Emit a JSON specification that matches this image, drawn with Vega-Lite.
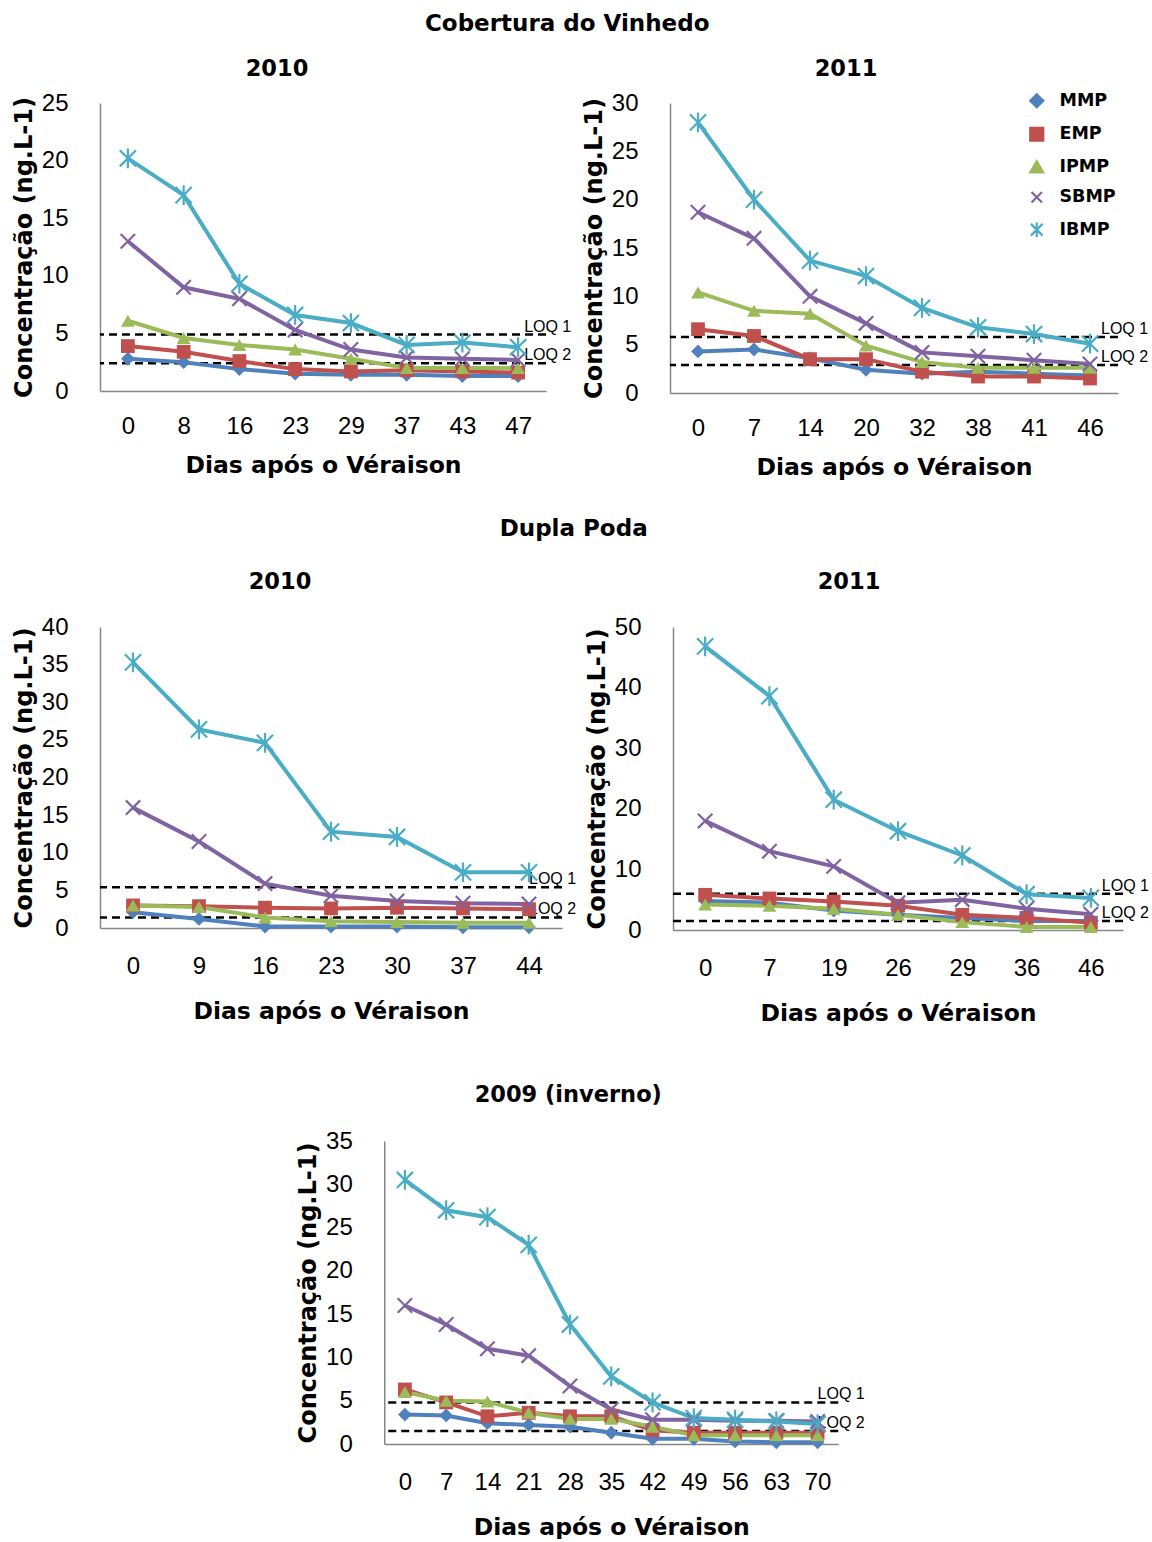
{
  "$schema": "https://vega.github.io/schema/vega-lite/v6.json",
  "padding": {"left": 12, "top": 12, "right": 0, "bottom": 0},
  "datasets": {
    "serie": [
      {"painel":"cv2010","dia":0,"composto":"MMP","valor":2.8},{"painel":"cv2010","dia":8,"composto":"MMP","valor":2.5},{"painel":"cv2010","dia":16,"composto":"MMP","valor":1.9},{"painel":"cv2010","dia":23,"composto":"MMP","valor":1.5},{"painel":"cv2010","dia":29,"composto":"MMP","valor":1.4},{"painel":"cv2010","dia":37,"composto":"MMP","valor":1.4},{"painel":"cv2010","dia":43,"composto":"MMP","valor":1.3},{"painel":"cv2010","dia":47,"composto":"MMP","valor":1.3},
      {"painel":"cv2010","dia":0,"composto":"EMP","valor":3.9},{"painel":"cv2010","dia":8,"composto":"EMP","valor":3.4},{"painel":"cv2010","dia":16,"composto":"EMP","valor":2.6},{"painel":"cv2010","dia":23,"composto":"EMP","valor":1.9},{"painel":"cv2010","dia":29,"composto":"EMP","valor":1.7},{"painel":"cv2010","dia":37,"composto":"EMP","valor":1.8},{"painel":"cv2010","dia":43,"composto":"EMP","valor":1.7},{"painel":"cv2010","dia":47,"composto":"EMP","valor":1.6},
      {"painel":"cv2010","dia":0,"composto":"IPMP","valor":6.1},{"painel":"cv2010","dia":8,"composto":"IPMP","valor":4.6},{"painel":"cv2010","dia":16,"composto":"IPMP","valor":4.0},{"painel":"cv2010","dia":23,"composto":"IPMP","valor":3.6},{"painel":"cv2010","dia":29,"composto":"IPMP","valor":2.8},{"painel":"cv2010","dia":37,"composto":"IPMP","valor":2.0},{"painel":"cv2010","dia":43,"composto":"IPMP","valor":2.0},{"painel":"cv2010","dia":47,"composto":"IPMP","valor":2.0},
      {"painel":"cv2010","dia":0,"composto":"SBMP","valor":13.0},{"painel":"cv2010","dia":8,"composto":"SBMP","valor":9.0},{"painel":"cv2010","dia":16,"composto":"SBMP","valor":8.0},{"painel":"cv2010","dia":23,"composto":"SBMP","valor":5.3},{"painel":"cv2010","dia":29,"composto":"SBMP","valor":3.6},{"painel":"cv2010","dia":37,"composto":"SBMP","valor":2.9},{"painel":"cv2010","dia":43,"composto":"SBMP","valor":2.8},{"painel":"cv2010","dia":47,"composto":"SBMP","valor":2.7},
      {"painel":"cv2010","dia":0,"composto":"IBMP","valor":20.2},{"painel":"cv2010","dia":8,"composto":"IBMP","valor":17.0},{"painel":"cv2010","dia":16,"composto":"IBMP","valor":9.3},{"painel":"cv2010","dia":23,"composto":"IBMP","valor":6.6},{"painel":"cv2010","dia":29,"composto":"IBMP","valor":5.9},{"painel":"cv2010","dia":37,"composto":"IBMP","valor":4.0},{"painel":"cv2010","dia":43,"composto":"IBMP","valor":4.2},{"painel":"cv2010","dia":47,"composto":"IBMP","valor":3.8},

      {"painel":"cv2011","dia":0,"composto":"MMP","valor":4.3},{"painel":"cv2011","dia":7,"composto":"MMP","valor":4.5},{"painel":"cv2011","dia":14,"composto":"MMP","valor":3.6},{"painel":"cv2011","dia":20,"composto":"MMP","valor":2.4},{"painel":"cv2011","dia":32,"composto":"MMP","valor":2.0},{"painel":"cv2011","dia":38,"composto":"MMP","valor":2.2},{"painel":"cv2011","dia":41,"composto":"MMP","valor":2.0},{"painel":"cv2011","dia":46,"composto":"MMP","valor":1.8},
      {"painel":"cv2011","dia":0,"composto":"EMP","valor":6.6},{"painel":"cv2011","dia":7,"composto":"EMP","valor":5.9},{"painel":"cv2011","dia":14,"composto":"EMP","valor":3.5},{"painel":"cv2011","dia":20,"composto":"EMP","valor":3.5},{"painel":"cv2011","dia":32,"composto":"EMP","valor":2.2},{"painel":"cv2011","dia":38,"composto":"EMP","valor":1.7},{"painel":"cv2011","dia":41,"composto":"EMP","valor":1.7},{"painel":"cv2011","dia":46,"composto":"EMP","valor":1.5},
      {"painel":"cv2011","dia":0,"composto":"IPMP","valor":10.4},{"painel":"cv2011","dia":7,"composto":"IPMP","valor":8.5},{"painel":"cv2011","dia":14,"composto":"IPMP","valor":8.2},{"painel":"cv2011","dia":20,"composto":"IPMP","valor":4.9},{"painel":"cv2011","dia":32,"composto":"IPMP","valor":3.2},{"painel":"cv2011","dia":38,"composto":"IPMP","valor":2.6},{"painel":"cv2011","dia":41,"composto":"IPMP","valor":2.6},{"painel":"cv2011","dia":46,"composto":"IPMP","valor":2.6},
      {"painel":"cv2011","dia":0,"composto":"SBMP","valor":18.7},{"painel":"cv2011","dia":7,"composto":"SBMP","valor":16.0},{"painel":"cv2011","dia":14,"composto":"SBMP","valor":10.0},{"painel":"cv2011","dia":20,"composto":"SBMP","valor":7.2},{"painel":"cv2011","dia":32,"composto":"SBMP","valor":4.2},{"painel":"cv2011","dia":38,"composto":"SBMP","valor":3.8},{"painel":"cv2011","dia":41,"composto":"SBMP","valor":3.4},{"painel":"cv2011","dia":46,"composto":"SBMP","valor":3.0},
      {"painel":"cv2011","dia":0,"composto":"IBMP","valor":28.0},{"painel":"cv2011","dia":7,"composto":"IBMP","valor":20.0},{"painel":"cv2011","dia":14,"composto":"IBMP","valor":13.7},{"painel":"cv2011","dia":20,"composto":"IBMP","valor":12.1},{"painel":"cv2011","dia":32,"composto":"IBMP","valor":8.8},{"painel":"cv2011","dia":38,"composto":"IBMP","valor":6.8},{"painel":"cv2011","dia":41,"composto":"IBMP","valor":6.1},{"painel":"cv2011","dia":46,"composto":"IBMP","valor":5.1},

      {"painel":"dp2010","dia":0,"composto":"MMP","valor":2.1},{"painel":"dp2010","dia":9,"composto":"MMP","valor":1.2},{"painel":"dp2010","dia":16,"composto":"MMP","valor":0.2},{"painel":"dp2010","dia":23,"composto":"MMP","valor":0.2},{"painel":"dp2010","dia":30,"composto":"MMP","valor":0.2},{"painel":"dp2010","dia":37,"composto":"MMP","valor":0.1},{"painel":"dp2010","dia":44,"composto":"MMP","valor":0.1},
      {"painel":"dp2010","dia":0,"composto":"EMP","valor":3.0},{"painel":"dp2010","dia":9,"composto":"EMP","valor":2.9},{"painel":"dp2010","dia":16,"composto":"EMP","valor":2.7},{"painel":"dp2010","dia":23,"composto":"EMP","valor":2.6},{"painel":"dp2010","dia":30,"composto":"EMP","valor":2.7},{"painel":"dp2010","dia":37,"composto":"EMP","valor":2.6},{"painel":"dp2010","dia":44,"composto":"EMP","valor":2.5},
      {"painel":"dp2010","dia":0,"composto":"IPMP","valor":3.0},{"painel":"dp2010","dia":9,"composto":"IPMP","valor":2.8},{"painel":"dp2010","dia":16,"composto":"IPMP","valor":1.4},{"painel":"dp2010","dia":23,"composto":"IPMP","valor":0.9},{"painel":"dp2010","dia":30,"composto":"IPMP","valor":0.8},{"painel":"dp2010","dia":37,"composto":"IPMP","valor":0.7},{"painel":"dp2010","dia":44,"composto":"IPMP","valor":0.7},
      {"painel":"dp2010","dia":0,"composto":"SBMP","valor":16.0},{"painel":"dp2010","dia":9,"composto":"SBMP","valor":11.5},{"painel":"dp2010","dia":16,"composto":"SBMP","valor":5.9},{"painel":"dp2010","dia":23,"composto":"SBMP","valor":4.3},{"painel":"dp2010","dia":30,"composto":"SBMP","valor":3.6},{"painel":"dp2010","dia":37,"composto":"SBMP","valor":3.3},{"painel":"dp2010","dia":44,"composto":"SBMP","valor":3.2},
      {"painel":"dp2010","dia":0,"composto":"IBMP","valor":35.3},{"painel":"dp2010","dia":9,"composto":"IBMP","valor":26.4},{"painel":"dp2010","dia":16,"composto":"IBMP","valor":24.6},{"painel":"dp2010","dia":23,"composto":"IBMP","valor":12.8},{"painel":"dp2010","dia":30,"composto":"IBMP","valor":12.1},{"painel":"dp2010","dia":37,"composto":"IBMP","valor":7.4},{"painel":"dp2010","dia":44,"composto":"IBMP","valor":7.4},

      {"painel":"dp2011","dia":0,"composto":"MMP","valor":4.8},{"painel":"dp2011","dia":7,"composto":"MMP","valor":4.5},{"painel":"dp2011","dia":19,"composto":"MMP","valor":3.2},{"painel":"dp2011","dia":26,"composto":"MMP","valor":2.5},{"painel":"dp2011","dia":29,"composto":"MMP","valor":2.0},{"painel":"dp2011","dia":36,"composto":"MMP","valor":1.5},{"painel":"dp2011","dia":46,"composto":"MMP","valor":1.5},
      {"painel":"dp2011","dia":0,"composto":"EMP","valor":5.8},{"painel":"dp2011","dia":7,"composto":"EMP","valor":5.2},{"painel":"dp2011","dia":19,"composto":"EMP","valor":4.7},{"painel":"dp2011","dia":26,"composto":"EMP","valor":4.0},{"painel":"dp2011","dia":29,"composto":"EMP","valor":2.5},{"painel":"dp2011","dia":36,"composto":"EMP","valor":2.0},{"painel":"dp2011","dia":46,"composto":"EMP","valor":1.2},
      {"painel":"dp2011","dia":0,"composto":"IPMP","valor":4.2},{"painel":"dp2011","dia":7,"composto":"IPMP","valor":4.0},{"painel":"dp2011","dia":19,"composto":"IPMP","valor":3.5},{"painel":"dp2011","dia":26,"composto":"IPMP","valor":2.5},{"painel":"dp2011","dia":29,"composto":"IPMP","valor":1.3},{"painel":"dp2011","dia":36,"composto":"IPMP","valor":0.5},{"painel":"dp2011","dia":46,"composto":"IPMP","valor":0.5},
      {"painel":"dp2011","dia":0,"composto":"SBMP","valor":18.0},{"painel":"dp2011","dia":7,"composto":"SBMP","valor":13.0},{"painel":"dp2011","dia":19,"composto":"SBMP","valor":10.5},{"painel":"dp2011","dia":26,"composto":"SBMP","valor":4.5},{"painel":"dp2011","dia":29,"composto":"SBMP","valor":5.0},{"painel":"dp2011","dia":36,"composto":"SBMP","valor":3.5},{"painel":"dp2011","dia":46,"composto":"SBMP","valor":2.6},
      {"painel":"dp2011","dia":0,"composto":"IBMP","valor":46.8},{"painel":"dp2011","dia":7,"composto":"IBMP","valor":38.6},{"painel":"dp2011","dia":19,"composto":"IBMP","valor":21.5},{"painel":"dp2011","dia":26,"composto":"IBMP","valor":16.3},{"painel":"dp2011","dia":29,"composto":"IBMP","valor":12.3},{"painel":"dp2011","dia":36,"composto":"IBMP","valor":5.9},{"painel":"dp2011","dia":46,"composto":"IBMP","valor":5.3},

      {"painel":"in2009","dia":0,"composto":"MMP","valor":3.4},{"painel":"in2009","dia":7,"composto":"MMP","valor":3.3},{"painel":"in2009","dia":14,"composto":"MMP","valor":2.4},{"painel":"in2009","dia":21,"composto":"MMP","valor":2.2},{"painel":"in2009","dia":28,"composto":"MMP","valor":2.0},{"painel":"in2009","dia":35,"composto":"MMP","valor":1.3},{"painel":"in2009","dia":42,"composto":"MMP","valor":0.6},{"painel":"in2009","dia":49,"composto":"MMP","valor":0.6},{"painel":"in2009","dia":56,"composto":"MMP","valor":0.3},{"painel":"in2009","dia":63,"composto":"MMP","valor":0.2},{"painel":"in2009","dia":70,"composto":"MMP","valor":0.2},
      {"painel":"in2009","dia":0,"composto":"EMP","valor":6.3},{"painel":"in2009","dia":7,"composto":"EMP","valor":4.8},{"painel":"in2009","dia":14,"composto":"EMP","valor":3.2},{"painel":"in2009","dia":21,"composto":"EMP","valor":3.6},{"painel":"in2009","dia":28,"composto":"EMP","valor":3.2},{"painel":"in2009","dia":35,"composto":"EMP","valor":3.2},{"painel":"in2009","dia":42,"composto":"EMP","valor":1.6},{"painel":"in2009","dia":49,"composto":"EMP","valor":1.3},{"painel":"in2009","dia":56,"composto":"EMP","valor":1.3},{"painel":"in2009","dia":63,"composto":"EMP","valor":1.3},{"painel":"in2009","dia":70,"composto":"EMP","valor":1.3},
      {"painel":"in2009","dia":0,"composto":"IPMP","valor":6.0},{"painel":"in2009","dia":7,"composto":"IPMP","valor":5.0},{"painel":"in2009","dia":14,"composto":"IPMP","valor":4.9},{"painel":"in2009","dia":21,"composto":"IPMP","valor":3.6},{"painel":"in2009","dia":28,"composto":"IPMP","valor":2.9},{"painel":"in2009","dia":35,"composto":"IPMP","valor":2.9},{"painel":"in2009","dia":42,"composto":"IPMP","valor":2.0},{"painel":"in2009","dia":49,"composto":"IPMP","valor":1.0},{"painel":"in2009","dia":56,"composto":"IPMP","valor":1.0},{"painel":"in2009","dia":63,"composto":"IPMP","valor":1.0},{"painel":"in2009","dia":70,"composto":"IPMP","valor":1.0},
      {"painel":"in2009","dia":0,"composto":"SBMP","valor":16.0},{"painel":"in2009","dia":7,"composto":"SBMP","valor":13.8},{"painel":"in2009","dia":14,"composto":"SBMP","valor":11.0},{"painel":"in2009","dia":21,"composto":"SBMP","valor":10.2},{"painel":"in2009","dia":28,"composto":"SBMP","valor":6.7},{"painel":"in2009","dia":35,"composto":"SBMP","valor":4.0},{"painel":"in2009","dia":42,"composto":"SBMP","valor":2.8},{"painel":"in2009","dia":49,"composto":"SBMP","valor":2.8},{"painel":"in2009","dia":56,"composto":"SBMP","valor":2.7},{"painel":"in2009","dia":63,"composto":"SBMP","valor":2.7},{"painel":"in2009","dia":70,"composto":"SBMP","valor":2.6},
      {"painel":"in2009","dia":0,"composto":"IBMP","valor":30.5},{"painel":"in2009","dia":7,"composto":"IBMP","valor":27.0},{"painel":"in2009","dia":14,"composto":"IBMP","valor":26.2},{"painel":"in2009","dia":21,"composto":"IBMP","valor":23.0},{"painel":"in2009","dia":28,"composto":"IBMP","valor":13.8},{"painel":"in2009","dia":35,"composto":"IBMP","valor":7.8},{"painel":"in2009","dia":42,"composto":"IBMP","valor":4.8},{"painel":"in2009","dia":49,"composto":"IBMP","valor":3.0},{"painel":"in2009","dia":56,"composto":"IBMP","valor":2.8},{"painel":"in2009","dia":63,"composto":"IBMP","valor":2.6},{"painel":"in2009","dia":70,"composto":"IBMP","valor":2.3}
    ],
    "loq": [
      {"painel":"cv2010","rotulo":"LOQ 1","dia":47,"valor":4.9},{"painel":"cv2010","rotulo":"LOQ 2","dia":47,"valor":2.4},
      {"painel":"cv2011","rotulo":"LOQ 1","dia":46,"valor":5.8},{"painel":"cv2011","rotulo":"LOQ 2","dia":46,"valor":2.9},
      {"painel":"dp2010","rotulo":"LOQ 1","dia":44,"valor":5.4},{"painel":"dp2010","rotulo":"LOQ 2","dia":44,"valor":1.4},
      {"painel":"dp2011","rotulo":"LOQ 1","dia":46,"valor":6.0},{"painel":"dp2011","rotulo":"LOQ 2","dia":46,"valor":1.5},
      {"painel":"in2009","rotulo":"LOQ 1","dia":70,"valor":4.8},{"painel":"in2009","rotulo":"LOQ 2","dia":70,"valor":1.5}
    ]
  },
  "vconcat": [
    {
      "vconcat": [
        {
          "title": {"text": "Cobertura do Vinhedo", "offset": 22, "anchor": "middle", "dx": -13, "fontSize": 23},
          "spacing": 10,
          "resolve": {"scale": {"color": "independent", "shape": "independent"}},
          "hconcat": [
            {
              "width": 446, "height": 288,
              "title": {"text": "2010", "offset": 11, "frame": "group", "dx": -46},
              "encoding": {"y": {"field": "valor", "type": "quantitative", "scale": {"domain": [0, 25], "nice": false}, "axis": {"values": [0, 5, 10, 15, 20, 25], "title": "Concentração (ng.L-1)"}}},
              "layer": [
                {"data": {"name": "loq"}, "transform": [{"filter": "datum.painel === 'cv2010'"}], "mark": {"type": "rule", "strokeDash": [8, 5], "strokeWidth": 2.5, "color": "black"}, "encoding": {}},
                {"data": {"name": "loq"}, "transform": [{"filter": "datum.painel === 'cv2010'"}], "mark": {"type": "text", "align": "left", "baseline": "alphabetic", "dx": 6, "dy": -3, "font": "Liberation Sans", "fontSize": 16, "color": "black"},
                 "encoding": {"x": {"field": "dia", "type": "ordinal", "scale": {"type": "point", "padding": 0.5, "domain": [0, 8, 16, 23, 29, 37, 43, 47]}, "axis": {"title": "Dias após o Véraison", "labelPadding": 23, "titlePadding": 15}}, "text": {"field": "rotulo"}}},
                {"data": {"name": "serie"}, "transform": [{"filter": "datum.painel === 'cv2010'"}], "mark": {"type": "line", "strokeWidth": 4},
                 "encoding": {"x": {"field": "dia", "type": "ordinal", "scale": {"type": "point", "padding": 0.5, "domain": [0, 8, 16, 23, 29, 37, 43, 47]}, "axis": {"title": "Dias após o Véraison", "labelPadding": 23, "titlePadding": 15}},
                  "color": {"field": "composto", "type": "nominal", "scale": {"domain": ["MMP", "EMP", "IPMP", "SBMP", "IBMP"], "range": ["#4F81BD", "#C0504D", "#9BBB59", "#8064A2", "#4BACC6"]}, "legend": null}}},
                {"data": {"name": "serie"}, "transform": [{"filter": "datum.painel === 'cv2010' && (datum.composto === 'MMP' || datum.composto === 'EMP' || datum.composto === 'IPMP')"}], "mark": {"type": "point", "filled": true, "size": 190, "opacity": 1},
                 "encoding": {"x": {"field": "dia", "type": "ordinal", "scale": {"type": "point", "padding": 0.5, "domain": [0, 8, 16, 23, 29, 37, 43, 47]}, "axis": {"title": "Dias após o Véraison", "labelPadding": 23, "titlePadding": 15}},
                  "color": {"field": "composto", "type": "nominal", "scale": {"domain": ["MMP", "EMP", "IPMP", "SBMP", "IBMP"], "range": ["#4F81BD", "#C0504D", "#9BBB59", "#8064A2", "#4BACC6"]}, "legend": null},
                  "shape": {"field": "composto", "type": "nominal", "scale": {"domain": ["MMP", "EMP", "IPMP", "SBMP", "IBMP"], "range": ["diamond", "square", "triangle-up", "M-0.8,-0.8L0.8,0.8M-0.8,0.8L0.8,-0.8", "M-0.9,-0.9L0.9,0.9M-0.9,0.9L0.9,-0.9M0,-1.1L0,1.1"]}, "legend": null}}},
                {"data": {"name": "serie"}, "transform": [{"filter": "datum.painel === 'cv2010' && (datum.composto === 'SBMP' || datum.composto === 'IBMP')"}], "mark": {"type": "point", "filled": false, "size": 324, "strokeWidth": 2.2, "opacity": 1},
                 "encoding": {"x": {"field": "dia", "type": "ordinal", "scale": {"type": "point", "padding": 0.5, "domain": [0, 8, 16, 23, 29, 37, 43, 47]}, "axis": {"title": "Dias após o Véraison", "labelPadding": 23, "titlePadding": 15}},
                  "color": {"field": "composto", "type": "nominal", "scale": {"domain": ["MMP", "EMP", "IPMP", "SBMP", "IBMP"], "range": ["#4F81BD", "#C0504D", "#9BBB59", "#8064A2", "#4BACC6"]}, "legend": null},
                  "shape": {"field": "composto", "type": "nominal", "scale": {"domain": ["MMP", "EMP", "IPMP", "SBMP", "IBMP"], "range": ["diamond", "square", "triangle-up", "M-0.8,-0.8L0.8,0.8M-0.8,0.8L0.8,-0.8", "M-0.9,-0.9L0.9,0.9M-0.9,0.9L0.9,-0.9M0,-1.1L0,1.1"]}, "legend": null}}}
              ]
            },
            {
              "width": 448, "height": 290,
              "title": {"text": "2011", "offset": 11, "frame": "group", "dx": -48},
              "encoding": {"y": {"field": "valor", "type": "quantitative", "scale": {"domain": [0, 30], "nice": false}, "axis": {"values": [0, 5, 10, 15, 20, 25, 30], "title": "Concentração (ng.L-1)"}}},
              "layer": [
                {"data": {"name": "loq"}, "transform": [{"filter": "datum.painel === 'cv2011'"}], "mark": {"type": "rule", "strokeDash": [8, 5], "strokeWidth": 2.5, "color": "black"}, "encoding": {}},
                {"data": {"name": "loq"}, "transform": [{"filter": "datum.painel === 'cv2011'"}], "mark": {"type": "text", "align": "left", "baseline": "alphabetic", "dx": 11, "dy": -3, "font": "Liberation Sans", "fontSize": 16, "color": "black"},
                 "encoding": {"x": {"field": "dia", "type": "ordinal", "scale": {"type": "point", "padding": 0.5, "domain": [0, 7, 14, 20, 32, 38, 41, 46]}, "axis": {"title": "Dias após o Véraison", "labelPadding": 23, "titlePadding": 15}}, "text": {"field": "rotulo"}}},
                {"data": {"name": "serie"}, "transform": [{"filter": "datum.painel === 'cv2011'"}], "mark": {"type": "line", "strokeWidth": 4},
                 "encoding": {"x": {"field": "dia", "type": "ordinal", "scale": {"type": "point", "padding": 0.5, "domain": [0, 7, 14, 20, 32, 38, 41, 46]}, "axis": {"title": "Dias após o Véraison", "labelPadding": 23, "titlePadding": 15}},
                  "color": {"field": "composto", "type": "nominal", "scale": {"domain": ["MMP", "EMP", "IPMP", "SBMP", "IBMP"], "range": ["#4F81BD", "#C0504D", "#9BBB59", "#8064A2", "#4BACC6"]},
                   "legend": {"title": null, "orient": "none", "legendX": 358, "legendY": -11, "padding": 0, "labelFont": "DejaVu Sans", "labelFontWeight": "bold", "labelFontSize": 17.5, "labelColor": "black", "symbolSize": 170, "symbolStrokeWidth": 2.2, "rowPadding": 10.5, "labelOffset": 14}}}},
                {"data": {"name": "serie"}, "transform": [{"filter": "datum.painel === 'cv2011' && (datum.composto === 'MMP' || datum.composto === 'EMP' || datum.composto === 'IPMP')"}], "mark": {"type": "point", "filled": true, "size": 190, "opacity": 1},
                 "encoding": {"x": {"field": "dia", "type": "ordinal", "scale": {"type": "point", "padding": 0.5, "domain": [0, 7, 14, 20, 32, 38, 41, 46]}, "axis": {"title": "Dias após o Véraison", "labelPadding": 23, "titlePadding": 15}},
                  "color": {"field": "composto", "type": "nominal", "scale": {"domain": ["MMP", "EMP", "IPMP", "SBMP", "IBMP"], "range": ["#4F81BD", "#C0504D", "#9BBB59", "#8064A2", "#4BACC6"]}, "legend": null},
                  "shape": {"field": "composto", "type": "nominal", "scale": {"domain": ["MMP", "EMP", "IPMP", "SBMP", "IBMP"], "range": ["diamond", "square", "triangle-up", "M-0.8,-0.8L0.8,0.8M-0.8,0.8L0.8,-0.8", "M-0.9,-0.9L0.9,0.9M-0.9,0.9L0.9,-0.9M0,-1.1L0,1.1"]}, "legend": null}}},
                {"data": {"name": "serie"}, "transform": [{"filter": "datum.painel === 'cv2011' && (datum.composto === 'SBMP' || datum.composto === 'IBMP')"}], "mark": {"type": "point", "filled": false, "size": 324, "strokeWidth": 2.2, "opacity": 1},
                 "encoding": {"x": {"field": "dia", "type": "ordinal", "scale": {"type": "point", "padding": 0.5, "domain": [0, 7, 14, 20, 32, 38, 41, 46]}, "axis": {"title": "Dias após o Véraison", "labelPadding": 23, "titlePadding": 15}},
                  "color": {"field": "composto", "type": "nominal", "scale": {"domain": ["MMP", "EMP", "IPMP", "SBMP", "IBMP"], "range": ["#4F81BD", "#C0504D", "#9BBB59", "#8064A2", "#4BACC6"]}, "legend": null},
                  "shape": {"field": "composto", "type": "nominal", "scale": {"domain": ["MMP", "EMP", "IPMP", "SBMP", "IBMP"], "range": ["diamond", "square", "triangle-up", "M-0.8,-0.8L0.8,0.8M-0.8,0.8L0.8,-0.8", "M-0.9,-0.9L0.9,0.9M-0.9,0.9L0.9,-0.9M0,-1.1L0,1.1"]}, "legend": null}}}
              ]
            }
          ]
        },
        {
          "title": {"text": "Dupla Poda", "offset": 30, "anchor": "middle", "dx": -7, "fontSize": 23},
          "spacing": 8,
          "resolve": {"scale": {"color": "independent", "shape": "independent"}},
          "hconcat": [
            {
              "width": 462, "height": 301,
              "title": {"text": "2010", "offset": 22, "frame": "group", "dx": -51},
              "encoding": {"y": {"field": "valor", "type": "quantitative", "scale": {"domain": [0, 40], "nice": false}, "axis": {"values": [0, 5, 10, 15, 20, 25, 30, 35, 40], "title": "Concentração (ng.L-1)"}}},
              "layer": [
                {"data": {"name": "loq"}, "transform": [{"filter": "datum.painel === 'dp2010'"}], "mark": {"type": "rule", "strokeDash": [8, 5], "strokeWidth": 2.5, "color": "black"}, "encoding": {}},
                {"data": {"name": "loq"}, "transform": [{"filter": "datum.painel === 'dp2010'"}], "mark": {"type": "text", "align": "left", "baseline": "alphabetic", "dx": 0, "dy": -3, "font": "Liberation Sans", "fontSize": 16, "color": "black"},
                 "encoding": {"x": {"field": "dia", "type": "ordinal", "scale": {"type": "point", "padding": 0.5, "domain": [0, 9, 16, 23, 30, 37, 44]}, "axis": {"title": "Dias após o Véraison"}}, "text": {"field": "rotulo"}}},
                {"data": {"name": "serie"}, "transform": [{"filter": "datum.painel === 'dp2010'"}], "mark": {"type": "line", "strokeWidth": 4},
                 "encoding": {"x": {"field": "dia", "type": "ordinal", "scale": {"type": "point", "padding": 0.5, "domain": [0, 9, 16, 23, 30, 37, 44]}, "axis": {"title": "Dias após o Véraison"}},
                  "color": {"field": "composto", "type": "nominal", "scale": {"domain": ["MMP", "EMP", "IPMP", "SBMP", "IBMP"], "range": ["#4F81BD", "#C0504D", "#9BBB59", "#8064A2", "#4BACC6"]}, "legend": null}}},
                {"data": {"name": "serie"}, "transform": [{"filter": "datum.painel === 'dp2010' && (datum.composto === 'MMP' || datum.composto === 'EMP' || datum.composto === 'IPMP')"}], "mark": {"type": "point", "filled": true, "size": 190, "opacity": 1},
                 "encoding": {"x": {"field": "dia", "type": "ordinal", "scale": {"type": "point", "padding": 0.5, "domain": [0, 9, 16, 23, 30, 37, 44]}, "axis": {"title": "Dias após o Véraison"}},
                  "color": {"field": "composto", "type": "nominal", "scale": {"domain": ["MMP", "EMP", "IPMP", "SBMP", "IBMP"], "range": ["#4F81BD", "#C0504D", "#9BBB59", "#8064A2", "#4BACC6"]}, "legend": null},
                  "shape": {"field": "composto", "type": "nominal", "scale": {"domain": ["MMP", "EMP", "IPMP", "SBMP", "IBMP"], "range": ["diamond", "square", "triangle-up", "M-0.8,-0.8L0.8,0.8M-0.8,0.8L0.8,-0.8", "M-0.9,-0.9L0.9,0.9M-0.9,0.9L0.9,-0.9M0,-1.1L0,1.1"]}, "legend": null}}},
                {"data": {"name": "serie"}, "transform": [{"filter": "datum.painel === 'dp2010' && (datum.composto === 'SBMP' || datum.composto === 'IBMP')"}], "mark": {"type": "point", "filled": false, "size": 324, "strokeWidth": 2.2, "opacity": 1},
                 "encoding": {"x": {"field": "dia", "type": "ordinal", "scale": {"type": "point", "padding": 0.5, "domain": [0, 9, 16, 23, 30, 37, 44]}, "axis": {"title": "Dias após o Véraison"}},
                  "color": {"field": "composto", "type": "nominal", "scale": {"domain": ["MMP", "EMP", "IPMP", "SBMP", "IBMP"], "range": ["#4F81BD", "#C0504D", "#9BBB59", "#8064A2", "#4BACC6"]}, "legend": null},
                  "shape": {"field": "composto", "type": "nominal", "scale": {"domain": ["MMP", "EMP", "IPMP", "SBMP", "IBMP"], "range": ["diamond", "square", "triangle-up", "M-0.8,-0.8L0.8,0.8M-0.8,0.8L0.8,-0.8", "M-0.9,-0.9L0.9,0.9M-0.9,0.9L0.9,-0.9M0,-1.1L0,1.1"]}, "legend": null}}}
              ]
            },
            {
              "width": 450, "height": 303,
              "title": {"text": "2011", "offset": 22, "frame": "group", "dx": -49},
              "encoding": {"y": {"field": "valor", "type": "quantitative", "scale": {"domain": [0, 50], "nice": false}, "axis": {"values": [0, 10, 20, 30, 40, 50], "title": "Concentração (ng.L-1)"}}},
              "layer": [
                {"data": {"name": "loq"}, "transform": [{"filter": "datum.painel === 'dp2011'"}], "mark": {"type": "rule", "strokeDash": [8, 5], "strokeWidth": 2.5, "color": "black"}, "encoding": {}},
                {"data": {"name": "loq"}, "transform": [{"filter": "datum.painel === 'dp2011'"}], "mark": {"type": "text", "align": "left", "baseline": "alphabetic", "dx": 11, "dy": -3, "font": "Liberation Sans", "fontSize": 16, "color": "black"},
                 "encoding": {"x": {"field": "dia", "type": "ordinal", "scale": {"type": "point", "padding": 0.5, "domain": [0, 7, 19, 26, 29, 36, 46]}, "axis": {"title": "Dias após o Véraison"}}, "text": {"field": "rotulo"}}},
                {"data": {"name": "serie"}, "transform": [{"filter": "datum.painel === 'dp2011'"}], "mark": {"type": "line", "strokeWidth": 4},
                 "encoding": {"x": {"field": "dia", "type": "ordinal", "scale": {"type": "point", "padding": 0.5, "domain": [0, 7, 19, 26, 29, 36, 46]}, "axis": {"title": "Dias após o Véraison"}},
                  "color": {"field": "composto", "type": "nominal", "scale": {"domain": ["MMP", "EMP", "IPMP", "SBMP", "IBMP"], "range": ["#4F81BD", "#C0504D", "#9BBB59", "#8064A2", "#4BACC6"]}, "legend": null}}},
                {"data": {"name": "serie"}, "transform": [{"filter": "datum.painel === 'dp2011' && (datum.composto === 'MMP' || datum.composto === 'EMP' || datum.composto === 'IPMP')"}], "mark": {"type": "point", "filled": true, "size": 190, "opacity": 1},
                 "encoding": {"x": {"field": "dia", "type": "ordinal", "scale": {"type": "point", "padding": 0.5, "domain": [0, 7, 19, 26, 29, 36, 46]}, "axis": {"title": "Dias após o Véraison"}},
                  "color": {"field": "composto", "type": "nominal", "scale": {"domain": ["MMP", "EMP", "IPMP", "SBMP", "IBMP"], "range": ["#4F81BD", "#C0504D", "#9BBB59", "#8064A2", "#4BACC6"]}, "legend": null},
                  "shape": {"field": "composto", "type": "nominal", "scale": {"domain": ["MMP", "EMP", "IPMP", "SBMP", "IBMP"], "range": ["diamond", "square", "triangle-up", "M-0.8,-0.8L0.8,0.8M-0.8,0.8L0.8,-0.8", "M-0.9,-0.9L0.9,0.9M-0.9,0.9L0.9,-0.9M0,-1.1L0,1.1"]}, "legend": null}}},
                {"data": {"name": "serie"}, "transform": [{"filter": "datum.painel === 'dp2011' && (datum.composto === 'SBMP' || datum.composto === 'IBMP')"}], "mark": {"type": "point", "filled": false, "size": 324, "strokeWidth": 2.2, "opacity": 1},
                 "encoding": {"x": {"field": "dia", "type": "ordinal", "scale": {"type": "point", "padding": 0.5, "domain": [0, 7, 19, 26, 29, 36, 46]}, "axis": {"title": "Dias após o Véraison"}},
                  "color": {"field": "composto", "type": "nominal", "scale": {"domain": ["MMP", "EMP", "IPMP", "SBMP", "IBMP"], "range": ["#4F81BD", "#C0504D", "#9BBB59", "#8064A2", "#4BACC6"]}, "legend": null},
                  "shape": {"field": "composto", "type": "nominal", "scale": {"domain": ["MMP", "EMP", "IPMP", "SBMP", "IBMP"], "range": ["diamond", "square", "triangle-up", "M-0.8,-0.8L0.8,0.8M-0.8,0.8L0.8,-0.8", "M-0.9,-0.9L0.9,0.9M-0.9,0.9L0.9,-0.9M0,-1.1L0,1.1"]}, "legend": null}}}
              ]
            }
          ]
        }
      ],
      "spacing": 38,
      "resolve": {"scale": {"color": "independent", "shape": "independent"}}
    },
    {
      "width": 454, "height": 303,
      "title": {"text": "2009 (inverno)", "offset": 23, "frame": "group", "dx": -43},
      "encoding": {"y": {"field": "valor", "type": "quantitative", "scale": {"domain": [0, 35], "nice": false}, "axis": {"values": [0, 5, 10, 15, 20, 25, 30, 35], "title": "Concentração (ng.L-1)"}}},
      "layer": [
        {"data": {"name": "loq"}, "transform": [{"filter": "datum.painel === 'in2009'"}], "mark": {"type": "rule", "strokeDash": [8, 5], "strokeWidth": 2.5, "color": "black"}, "encoding": {}},
        {"data": {"name": "loq"}, "transform": [{"filter": "datum.painel === 'in2009'"}], "mark": {"type": "text", "align": "left", "baseline": "alphabetic", "dx": 0, "dy": -3, "font": "Liberation Sans", "fontSize": 16, "color": "black"},
         "encoding": {"x": {"field": "dia", "type": "ordinal", "scale": {"type": "point", "padding": 0.5, "domain": [0, 7, 14, 21, 28, 35, 42, 49, 56, 63, 70]}, "axis": {"title": "Dias após o Véraison"}}, "text": {"field": "rotulo"}}},
        {"data": {"name": "serie"}, "transform": [{"filter": "datum.painel === 'in2009'"}], "mark": {"type": "line", "strokeWidth": 4},
         "encoding": {"x": {"field": "dia", "type": "ordinal", "scale": {"type": "point", "padding": 0.5, "domain": [0, 7, 14, 21, 28, 35, 42, 49, 56, 63, 70]}, "axis": {"title": "Dias após o Véraison"}},
          "color": {"field": "composto", "type": "nominal", "scale": {"domain": ["MMP", "EMP", "IPMP", "SBMP", "IBMP"], "range": ["#4F81BD", "#C0504D", "#9BBB59", "#8064A2", "#4BACC6"]}, "legend": null}}},
        {"data": {"name": "serie"}, "transform": [{"filter": "datum.painel === 'in2009' && (datum.composto === 'MMP' || datum.composto === 'EMP' || datum.composto === 'IPMP')"}], "mark": {"type": "point", "filled": true, "size": 190, "opacity": 1},
         "encoding": {"x": {"field": "dia", "type": "ordinal", "scale": {"type": "point", "padding": 0.5, "domain": [0, 7, 14, 21, 28, 35, 42, 49, 56, 63, 70]}, "axis": {"title": "Dias após o Véraison"}},
          "color": {"field": "composto", "type": "nominal", "scale": {"domain": ["MMP", "EMP", "IPMP", "SBMP", "IBMP"], "range": ["#4F81BD", "#C0504D", "#9BBB59", "#8064A2", "#4BACC6"]}, "legend": null},
          "shape": {"field": "composto", "type": "nominal", "scale": {"domain": ["MMP", "EMP", "IPMP", "SBMP", "IBMP"], "range": ["diamond", "square", "triangle-up", "M-0.8,-0.8L0.8,0.8M-0.8,0.8L0.8,-0.8", "M-0.9,-0.9L0.9,0.9M-0.9,0.9L0.9,-0.9M0,-1.1L0,1.1"]}, "legend": null}}},
        {"data": {"name": "serie"}, "transform": [{"filter": "datum.painel === 'in2009' && (datum.composto === 'SBMP' || datum.composto === 'IBMP')"}], "mark": {"type": "point", "filled": false, "size": 324, "strokeWidth": 2.2, "opacity": 1},
         "encoding": {"x": {"field": "dia", "type": "ordinal", "scale": {"type": "point", "padding": 0.5, "domain": [0, 7, 14, 21, 28, 35, 42, 49, 56, 63, 70]}, "axis": {"title": "Dias após o Véraison"}},
          "color": {"field": "composto", "type": "nominal", "scale": {"domain": ["MMP", "EMP", "IPMP", "SBMP", "IBMP"], "range": ["#4F81BD", "#C0504D", "#9BBB59", "#8064A2", "#4BACC6"]}, "legend": null},
          "shape": {"field": "composto", "type": "nominal", "scale": {"domain": ["MMP", "EMP", "IPMP", "SBMP", "IBMP"], "range": ["diamond", "square", "triangle-up", "M-0.8,-0.8L0.8,0.8M-0.8,0.8L0.8,-0.8", "M-0.9,-0.9L0.9,0.9M-0.9,0.9L0.9,-0.9M0,-1.1L0,1.1"]}, "legend": null}}}
      ]
    }
  ],
  "spacing": 58,
  "center": true,
  "resolve": {"scale": {"color": "independent", "shape": "independent"}},
  "config": {
    "view": {"stroke": null},
    "axis": {"domainColor": "#868686", "domainWidth": 1.5, "ticks": false, "grid": false, "labelFont": "Liberation Sans", "labelFontSize": 24, "labelColor": "#000000", "titleFont": "DejaVu Sans", "titleFontWeight": "bold", "titleColor": "#000000"},
    "axisX": {"labelPadding": 26, "titlePadding": 21, "titleFontSize": 23.5, "labelAngle": 0},
    "axisY": {"labelPadding": 32, "titlePadding": 5, "titleFontSize": 24},
    "title": {"font": "DejaVu Sans", "fontSize": 22.5, "fontWeight": "bold", "color": "#000000", "anchor": "middle"}
  }
}
